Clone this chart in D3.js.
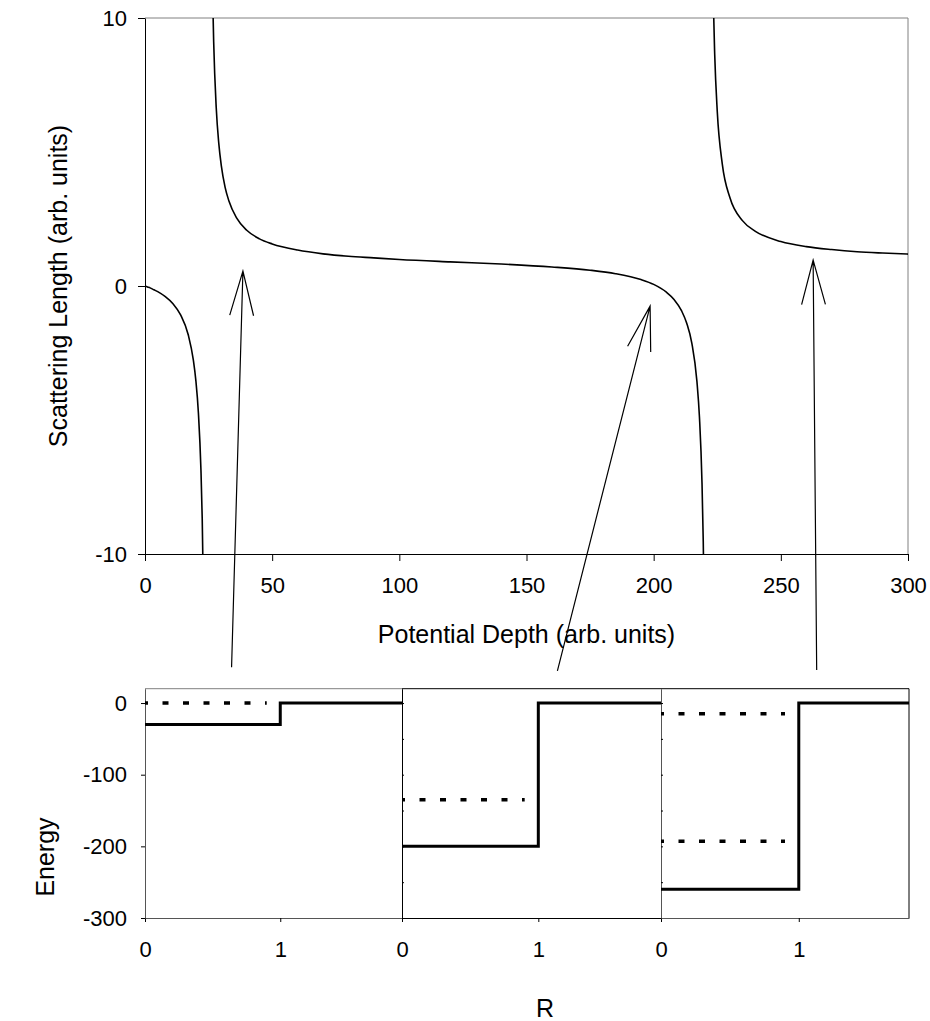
<!DOCTYPE html>
<html>
<head>
<meta charset="utf-8">
<script src="https://cdn.jsdelivr.net/npm/d3@7"></script>
<style>
  body { margin: 0; background: #fff; }
  svg { display: block; font-family: "Liberation Sans", Arial, sans-serif; }
</style>
</head>
<body>
<svg id="chart" width="930" height="1021"></svg>
<script>
// scattering length vs potential depth, one array pair per branch (split at the resonances)
const depth1 = [0, 1, 2, 3.5, 5, 8, 11, 14, 17, 19, 20, 21, 22, 22.5, 23];
const length1 = [0, -0.035, -0.07, -0.14, -0.21, -0.40, -0.66, -1.08, -1.82, -2.76, -3.53, -4.74, -6.87, -8.69, -11.67];

const depth2 = [26.5, 27, 28, 29, 30, 31.5, 33, 36, 40, 45, 50, 60, 70, 80, 90, 100, 120, 140, 160, 175, 185, 195, 200, 205, 208, 211, 213, 215, 217, 218, 219, 219.5, 220];
const length2 = [11.29, 9.11, 6.66, 5.33, 4.49, 3.68, 3.17, 2.54, 2.08, 1.76, 1.57, 1.34, 1.20, 1.11, 1.05, 0.99, 0.90, 0.82, 0.71, 0.59, 0.46, 0.24, 0.06, -0.23, -0.50, -0.93, -1.39, -2.13, -3.55, -4.89, -7.33, -9.55, -13.2];

const depth3 = [222.5, 223, 223.5, 224, 225, 227, 230, 235, 240, 250, 260, 270, 280, 290, 300];
const length3 = [19.25, 13.5, 10.47, 8.64, 6.52, 4.54, 3.29, 2.43, 2.04, 1.66, 1.47, 1.36, 1.28, 1.23, 1.19];

const depthTicks = [0, 50, 100, 150, 200, 250, 300];
const lengthTicks = [-10, 0, 10];

// the three square wells underneath
const wellDepth = [-30, -200, -260];
const boundLevels = [[0], [-135], [-15, -193]];
const wellEdge = 1;
const panelRMax = [1.9, 1.9, 1.8];
const energyTicks = [0, -100, -200, -300];
const energyMinorTicks = [0, -50, -100, -150, -200, -250];
const rTicks = [0, 1];

// arrows: tail sits above a well panel, tip points at the curve
const arrowTailR = [0.64, 1.14, 1.13];
const arrowTailEnergy = [50, 45, 46];
const arrowTipDepth = [38.5, 198.6, 262.7];
const arrowTipLength = [0.56, -0.75, 0.97];

const svg = d3.select("#chart");
svg.append("rect").attr("width", 930).attr("height", 1021).attr("fill", "#fff");

const FONT = 22;
const plain = d => String(d);   // plain hyphen minus, like the original

// ---------- top plot ----------
const plot = { left: 145, right: 908, top: 18, bottom: 554 };
const x = d3.scaleLinear([0, 300], [plot.left, plot.right]);
const y = d3.scaleLinear([-10, 10], [plot.bottom, plot.top]);

svg.append("defs").append("clipPath").attr("id", "topClip")
  .append("rect")
  .attr("x", plot.left).attr("y", plot.top)
  .attr("width", plot.right - plot.left).attr("height", plot.bottom - plot.top);

// grey frame on top and right
svg.append("path")
  .attr("d", `M${plot.left},${plot.top}H${plot.right}V${plot.bottom}`)
  .attr("fill", "none").attr("stroke", "#808080").attr("stroke-width", 1);

const xAxis = svg.append("g")
  .attr("transform", `translate(0,${plot.bottom})`)
  .call(d3.axisBottom(x).tickValues(depthTicks).tickFormat(plain).tickSize(7).tickSizeOuter(0).tickPadding(16));
const yAxis = svg.append("g")
  .attr("transform", `translate(${plot.left},0)`)
  .call(d3.axisLeft(y).tickValues(lengthTicks).tickFormat(plain).tickSize(7).tickSizeOuter(0).tickPadding(11));

[xAxis, yAxis].forEach(a => {
  a.selectAll("text").attr("font-size", FONT).attr("font-family", null).attr("fill", "#000");
  a.selectAll("line, path").attr("stroke", "#000");
});

const line = d3.line()
  .x(d => x(d[0]))
  .y(d => y(d[1]))
  .curve(d3.curveMonotoneX);

const branches = [
  d3.zip(depth1, length1),
  d3.zip(depth2, length2),
  d3.zip(depth3, length3)
];

svg.append("g").attr("clip-path", "url(#topClip)")
  .selectAll("path")
  .data(branches)
  .join("path")
  .attr("d", line)
  .attr("fill", "none")
  .attr("stroke", "#000")
  .attr("stroke-width", 1.6);

svg.append("text")
  .attr("x", (plot.left + plot.right) / 2).attr("y", 643)
  .attr("text-anchor", "middle").attr("font-size", 25)
  .text("Potential Depth (arb. units)");

svg.append("text")
  .attr("transform", `translate(67,${(plot.top + plot.bottom) / 2}) rotate(-90)`)
  .attr("text-anchor", "middle").attr("font-size", 25)
  .text("Scattering Length (arb. units)");

// ---------- bottom wells ----------
const panelLeft = [145, 402, 661];
const panelRight = [402, 661, 909];
const yE = d3.scaleLinear([-300, 20], [918, 688.7]);

const panelX = panelRMax.map((m, i) => d3.scaleLinear([0, m], [panelLeft[i], panelRight[i]]));

panelX.forEach((px, i) => {
  const g = svg.append("g");

  // top border (and right one for the last panel)
  g.append("line")
    .attr("x1", panelLeft[i]).attr("x2", panelRight[i])
    .attr("y1", yE(20)).attr("y2", yE(20))
    .attr("stroke", i === 0 ? "#808080" : "#000");
  if (i === 2) {
    g.append("line")
      .attr("x1", panelRight[i]).attr("x2", panelRight[i])
      .attr("y1", yE(20)).attr("y2", yE(-300))
      .attr("stroke", "#000");
  }

  const ax = g.append("g")
    .attr("transform", `translate(0,${yE(-300)})`)
    .call(d3.axisBottom(px).tickValues(rTicks).tickFormat(plain).tickSize(4).tickSizeOuter(0).tickPadding(19));

  let ay;
  if (i === 0) {
    ay = g.append("g")
      .attr("transform", `translate(${panelLeft[i]},0)`)
      .call(d3.axisLeft(yE).tickValues(energyTicks).tickFormat(plain).tickSize(4).tickSizeOuter(0).tickPadding(14));
  } else {
    ay = g.append("g")
      .attr("transform", `translate(${panelLeft[i]},0)`)
      .call(d3.axisRight(yE).tickValues(energyMinorTicks).tickSize(2).tickSizeOuter(0).tickFormat(""));
  }
  [ax, ay].forEach(a => {
    a.selectAll("text").attr("font-size", FONT).attr("font-family", null).attr("fill", "#000");
    a.selectAll("line").attr("stroke", "#000");
    a.select(".domain").attr("stroke", i === 1 ? "#000" : "#555");
  });

  // potential: flat at the well depth out to R=1, then zero
  const well = [[0, wellDepth[i]], [wellEdge, 0], [panelRMax[i], 0]];
  g.append("path")
    .attr("d", d3.line().x(d => px(d[0])).y(d => yE(d[1])).curve(d3.curveStepAfter)(well))
    .attr("fill", "none")
    .attr("stroke", "#000")
    .attr("stroke-width", 3);

  // bound state energies, dotted inside the well
  g.selectAll(".level")
    .data(boundLevels[i])
    .join("line")
    .attr("class", "level")
    .attr("x1", px(0)).attr("x2", px(0.9))
    .attr("y1", d => yE(d)).attr("y2", d => yE(d))
    .attr("stroke", "#000")
    .attr("stroke-width", 3.5)
    .attr("stroke-dasharray", "6,14.5")
    .attr("stroke-dashoffset", 3);
});

svg.append("text")
  .attr("transform", `translate(54,857) rotate(-90)`)
  .attr("text-anchor", "middle").attr("font-size", 25)
  .text("Energy");

svg.append("text")
  .attr("x", 545).attr("y", 1017)
  .attr("text-anchor", "middle").attr("font-size", 25)
  .text("R");

// ---------- arrows ----------
const headLen = 46, headAngle = 15 * Math.PI / 180;
arrowTipDepth.forEach((d, i) => {
  const tx = x(d), ty = y(arrowTipLength[i]);
  const sx = panelX[i](arrowTailR[i]), sy = yE(arrowTailEnergy[i]);
  const ang = Math.atan2(sy - ty, sx - tx);
  const h1 = [tx + headLen * Math.cos(ang - headAngle), ty + headLen * Math.sin(ang - headAngle)];
  const h2 = [tx + headLen * Math.cos(ang + headAngle), ty + headLen * Math.sin(ang + headAngle)];
  svg.append("path")
    .attr("d", `M${sx},${sy}L${tx},${ty}M${h1[0]},${h1[1]}L${tx},${ty}L${h2[0]},${h2[1]}`)
    .attr("fill", "none")
    .attr("stroke", "#000")
    .attr("stroke-width", 1.2);
});
</script>
</body>
</html>
